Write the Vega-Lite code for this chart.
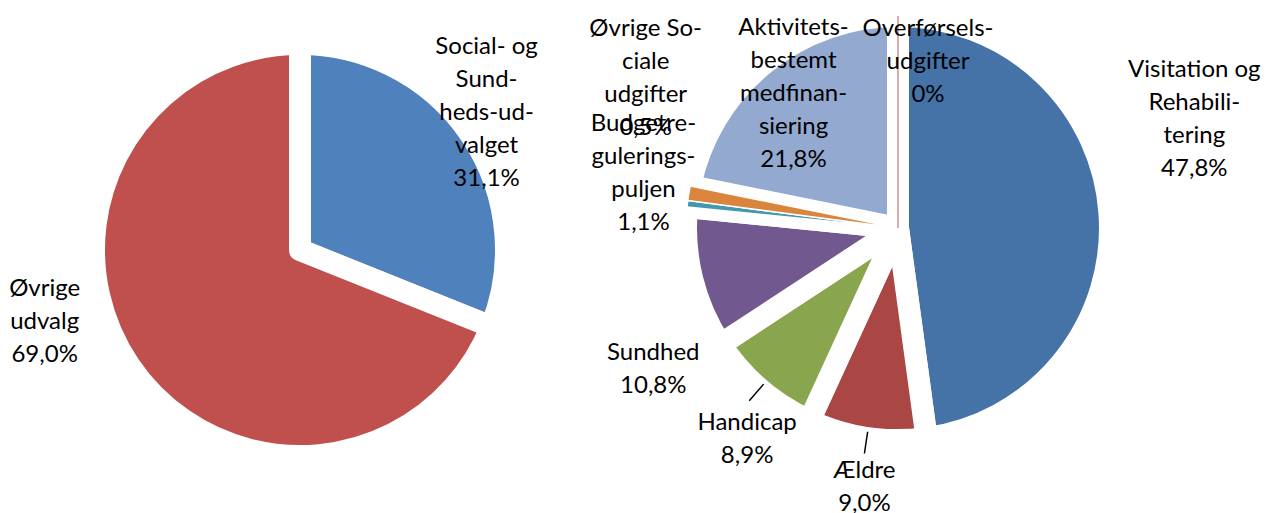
{
  "$schema": "https://vega.github.io/schema/vega-lite/v6.json",
  "padding": 0,
  "background": "white",
  "bounds": "flush",
  "spacing": 0,
  "resolve": {"scale": {"color": "independent", "theta": "independent"}},
  "config": {
    "view": {"stroke": null},
    "text": {"font": "Lato", "fontSize": 24, "lineHeight": 33, "color": "#000000"}
  },
  "hconcat": [
    {
      "width": 600,
      "height": 500,
      "data": {
        "values": [
          {"name": "Social- og Sundhedsudvalget", "label": "Social- og\nSund-\nheds-ud-\nvalget\n31,1%", "value": 31.1, "order": 1},
          {"name": "Øvrige udvalg", "label": "Øvrige\nudvalg\n69,0%", "value": 69.0, "order": 2}
        ]
      },
      "transform": [
        {"stack": "value", "groupby": [], "sort": [{"field": "order", "order": "ascending"}], "as": ["v0", "v1"]},
        {"calculate": "(datum.v0 + datum.v1) / 2", "as": "mid"}
      ],
      "layer": [
        {
          "mark": {"type": "arc", "outerRadius": 206, "stroke": "white", "strokeWidth": 22, "strokeJoin": "round"},
          "encoding": {
            "theta": {"field": "v0", "type": "quantitative", "scale": {"domain": [0, 100.1]}},
            "theta2": {"field": "v1"},
            "color": {
              "field": "name", "type": "nominal", "legend": null,
              "scale": {"domain": ["Social- og Sundhedsudvalget", "Øvrige udvalg"], "range": ["#4F81BD", "#C0504D"]}
            }
          }
        },
        {
          "transform": [{"filter": "datum.name == 'Social- og Sundhedsudvalget'"}],
          "mark": {"type": "text", "lineBreak": "\n", "dx": 6, "dy": -81},
          "encoding": {
            "theta": {"field": "mid", "type": "quantitative", "scale": {"domain": [0, 100.1]}},
            "radius": {"value": 218},
            "text": {"field": "label"}
          }
        },
        {
          "transform": [{"filter": "datum.name == 'Øvrige udvalg'"}],
          "mark": {"type": "text", "lineBreak": "\n", "dx": -40, "dy": -107},
          "encoding": {
            "theta": {"field": "mid", "type": "quantitative", "scale": {"domain": [0, 100.1]}},
            "radius": {"value": 260},
            "text": {"field": "label"}
          }
        }
      ]
    },
    {
      "width": 596,
      "height": 456,
      "data": {
        "values": [
          {"name": "Visitation og Rehabilitering", "label": "Visitation og\nRehabili-\ntering\n47,8%", "value": 47.8, "order": 1},
          {"name": "Ældre", "label": "Ældre\n9,0%", "value": 9.0, "order": 2},
          {"name": "Handicap", "label": "Handicap\n8,9%", "value": 8.9, "order": 3},
          {"name": "Sundhed", "label": "Sundhed\n10,8%", "value": 10.8, "order": 4},
          {"name": "Øvrige Sociale udgifter", "label": "Øvrige So-\nciale\nudgifter\n0,5%", "value": 0.5, "order": 5},
          {"name": "Budgetreguleringspuljen", "label": "Budgetre-\ngulerings-\npuljen\n1,1%", "value": 1.1, "order": 6},
          {"name": "Aktivitetsbestemt medfinansiering", "label": "Aktivitets-\nbestemt\nmedfinan-\nsiering\n21,8%", "value": 21.8, "order": 7},
          {"name": "Overførselsudgifter", "label": "Overførsels-\nudgifter\n0%", "value": 0.0, "order": 8}
        ]
      },
      "transform": [
        {"stack": "value", "groupby": [], "sort": [{"field": "order", "order": "ascending"}], "as": ["v0", "v1"]},
        {"calculate": "(datum.v0 + datum.v1) / 2", "as": "mid"}
      ],
      "layer": [
        {
          "mark": {"type": "arc", "outerRadius": 212, "stroke": "white", "strokeWidth": 22, "strokeJoin": "round"},
          "encoding": {
            "theta": {"field": "v0", "type": "quantitative", "scale": {"domain": [0, 99.9]}},
            "theta2": {"field": "v1"},
            "color": {
              "field": "name", "type": "nominal", "legend": null,
              "scale": {
                "domain": ["Visitation og Rehabilitering", "Ældre", "Handicap", "Sundhed", "Øvrige Sociale udgifter", "Budgetreguleringspuljen", "Aktivitetsbestemt medfinansiering", "Overførselsudgifter"],
                "range": ["#4572A7", "#AA4643", "#89A54E", "#71588F", "#4198AF", "#DB843D", "#93A9CF", "#D19392"]
              }
            }
          }
        },
        {
          "transform": [{"filter": "datum.value > 0 && datum.value < 2"}],
          "mark": {"type": "arc", "outerRadius": 212, "stroke": "white", "strokeWidth": 1.5},
          "encoding": {
            "theta": {"field": "v0", "type": "quantitative", "scale": {"domain": [0, 99.9]}},
            "theta2": {"field": "v1"},
            "color": {"field": "name", "type": "nominal", "legend": null}
          }
        },
        {
          "transform": [{"filter": "datum.value == 0"}],
          "mark": {"type": "arc", "outerRadius": 212, "stroke": "#D19392", "strokeWidth": 1, "fill": "#D19392"},
          "encoding": {
            "theta": {"field": "v0", "type": "quantitative", "scale": {"domain": [0, 99.9]}},
            "theta2": {"field": "v1"}
          }
        },
        {
          "transform": [{"filter": "datum.name == 'Ældre' || datum.name == 'Handicap'"}],
          "mark": {"type": "arc", "innerRadius": 206, "outerRadius": 228, "stroke": "#000000", "strokeWidth": 1.5, "fill": null},
          "encoding": {
            "theta": {"field": "mid", "type": "quantitative", "scale": {"domain": [0, 99.9]}},
            "theta2": {"field": "mid"}
          }
        },
        {
          "transform": [{"filter": "datum.name == 'Visitation og Rehabilitering'"}],
          "mark": {"type": "text", "lineBreak": "\n", "dy": -138},
          "encoding": {
            "theta": {"field": "mid", "type": "quantitative", "scale": {"domain": [0, 99.9]}},
            "radius": {"value": 297},
            "text": {"field": "label"}
          }
        },
        {
          "transform": [{"filter": "datum.name == 'Ældre'"}],
          "mark": {"type": "text", "lineBreak": "\n", "dx": 5, "dy": -16},
          "encoding": {
            "theta": {"field": "mid", "type": "quantitative", "scale": {"domain": [0, 99.9]}},
            "radius": {"value": 262},
            "text": {"field": "label"}
          }
        },
        {
          "transform": [{"filter": "datum.name == 'Handicap'"}],
          "mark": {"type": "text", "lineBreak": "\n", "dx": 22, "dy": -6},
          "encoding": {
            "theta": {"field": "mid", "type": "quantitative", "scale": {"domain": [0, 99.9]}},
            "radius": {"value": 265},
            "text": {"field": "label"}
          }
        },
        {
          "transform": [{"filter": "datum.name == 'Sundhed'"}],
          "mark": {"type": "text", "lineBreak": "\n", "dy": 65},
          "encoding": {
            "theta": {"field": "mid", "type": "quantitative", "scale": {"domain": [0, 99.9]}},
            "radius": {"value": 252},
            "text": {"field": "label"}
          }
        },
        {
          "transform": [{"filter": "datum.name == 'Øvrige Sociale udgifter'"}],
          "mark": {"type": "text", "lineBreak": "\n", "dy": -170},
          "encoding": {
            "theta": {"field": "mid", "type": "quantitative", "scale": {"domain": [0, 99.9]}},
            "radius": {"value": 254},
            "text": {"field": "label"}
          }
        },
        {
          "transform": [{"filter": "datum.name == 'Budgetreguleringspuljen'"}],
          "mark": {"type": "text", "lineBreak": "\n", "dy": -62},
          "encoding": {
            "theta": {"field": "mid", "type": "quantitative", "scale": {"domain": [0, 99.9]}},
            "radius": {"value": 258},
            "text": {"field": "label"}
          }
        },
        {
          "transform": [{"filter": "datum.name == 'Aktivitetsbestemt medfinansiering'"}],
          "mark": {"type": "text", "lineBreak": "\n", "dy": -72},
          "encoding": {
            "theta": {"field": "mid", "type": "quantitative", "scale": {"domain": [0, 99.9]}},
            "radius": {"value": 165},
            "text": {"field": "label"}
          }
        },
        {
          "transform": [{"filter": "datum.name == 'Overførselsudgifter'"}],
          "mark": {"type": "text", "lineBreak": "\n", "dx": 30, "dy": -33},
          "encoding": {
            "theta": {"field": "mid", "type": "quantitative", "scale": {"domain": [0, 99.9]}},
            "radius": {"value": 166},
            "text": {"field": "label"}
          }
        }
      ]
    }
  ]
}
